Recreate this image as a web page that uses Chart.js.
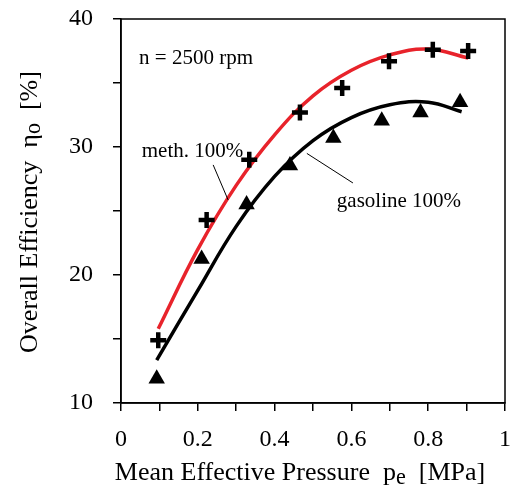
<!DOCTYPE html>
<html>
<head>
<meta charset="utf-8">
<script src="https://cdn.jsdelivr.net/npm/chart.js@4/dist/chart.umd.min.js"></script>
<style>
  html, body { margin: 0; padding: 0; background: #fff; }
  #wrap { width: 511px; height: 492px; position: relative; }
</style>
</head>
<body>
<div id="wrap"><canvas id="c" width="511" height="492"></canvas></div>
<script>
// ---- data ----
const methPressure = [0.097, 0.223, 0.334, 0.466, 0.576, 0.698, 0.812, 0.904];
const methEff      = [14.9, 24.3, 29.0, 32.7, 34.6, 36.7, 37.6, 37.5];
const gasPressure  = [0.093, 0.21, 0.327, 0.44, 0.553, 0.679, 0.78, 0.883];
const gasEff       = [11.9, 21.25, 25.5, 28.55, 30.7, 32.05, 32.7, 33.5];

const methFitPressure = [0.097, 0.2, 0.3, 0.4, 0.5, 0.6, 0.7, 0.8, 0.904];
const methFitEff      = [15.8, 22.0, 27.0, 30.95, 34.0, 36.0, 37.2, 37.65, 36.95];
const gasFitPressure  = [0.093, 0.2, 0.3, 0.4, 0.5, 0.6, 0.7, 0.8, 0.887];
const gasFitEff       = [13.35, 18.8, 23.8, 27.7, 30.5, 32.3, 33.3, 33.5, 32.75];

const xTicks = [0, 0.2, 0.4, 0.6, 0.8, 1];
const yTicks = [10, 20, 30, 40];

const labels = {
  speed: 'n = 2500 rpm',
  meth: 'meth. 100%',
  gas: 'gasoline 100%',
  xTitle: ['Mean Effective Pressure  p', 'e', '  [MPa]'],
  yTitle: ['Overall Efficiency  η', 'o', '  [%]']
};

const pts = (xs, ys) => xs.map((x, i) => ({ x: x, y: ys[i] }));

const SERIF = '"Liberation Serif", "Times New Roman", serif';

const overlay = {
  id: 'overlay',
  afterDraw(chart) {
    const ctx = chart.ctx;
    const xs = chart.scales.x, ys = chart.scales.y;
    const a = chart.chartArea;
    const px = v => xs.getPixelForValue(v), py = v => ys.getPixelForValue(v);
    ctx.save();
    // frame (top & right)
    ctx.strokeStyle = '#000';
    ctx.lineWidth = 1.5;
    ctx.strokeRect(a.left, a.top, a.right - a.left, a.bottom - a.top);

    // leader lines
    ctx.lineWidth = 1;
    ctx.beginPath();
    ctx.moveTo(px(0.240), py(28.6)); ctx.lineTo(px(0.279), py(25.86));
    ctx.moveTo(px(0.484), py(29.5)); ctx.lineTo(px(0.604), py(27.19));
    ctx.stroke();

    // annotations
    ctx.fillStyle = '#000';
    ctx.font = '21px ' + SERIF;
    ctx.textBaseline = 'alphabetic';
    ctx.textAlign = 'left';
    ctx.fillText(labels.speed, px(0.047), py(36.48));
    ctx.fillText(labels.meth, px(0.054), py(29.24));
    ctx.fillText(labels.gas, px(0.562), py(25.34));

    // axis titles with subscripts
    const drawSub = (parts, x, y, size, subShift) => {
      ctx.font = size + 'px ' + SERIF;
      const w0 = ctx.measureText(parts[0]).width;
      ctx.font = (size * 0.85) + 'px ' + SERIF;
      const w1 = ctx.measureText(parts[1]).width;
      ctx.font = size + 'px ' + SERIF;
      const w2 = ctx.measureText(parts[2]).width;
      const total = w0 + w1 + w2;
      let cx = x - total / 2;
      ctx.textAlign = 'left';
      ctx.fillText(parts[0], cx, y); cx += w0;
      ctx.font = (size * 0.85) + 'px ' + SERIF;
      ctx.fillText(parts[1], cx, y + subShift); cx += w1;
      ctx.font = size + 'px ' + SERIF;
      ctx.fillText(parts[2], cx, y);
    };
    drawSub(labels.xTitle, 300, 480, 26, 4);
    ctx.translate(37, 212);
    ctx.rotate(-Math.PI / 2);
    drawSub(labels.yTitle, 0, 0, 26, 3);
    ctx.restore();
  }
};

const noPad = s => { s.paddingTop = 0; s.paddingBottom = 0; s.paddingLeft = 0; s.paddingRight = 0; };

const ctx = document.getElementById('c').getContext('2d');
new Chart(ctx, {
  type: 'scatter',
  data: {
    datasets: [
      { label: 'meth fit', data: pts(methFitPressure, methFitEff), showLine: true,
        borderColor: '#e8232b', borderWidth: 3.5, pointRadius: 0, tension: 0.4, fill: false, order: 3 },
      { label: 'gas fit', data: pts(gasFitPressure, gasFitEff), showLine: true,
        borderColor: '#000', borderWidth: 3.5, pointRadius: 0, tension: 0.4, fill: false, order: 4 },
      { label: 'methanol 100%', data: pts(methPressure, methEff), pointStyle: 'cross',
        pointRadius: 8, borderColor: '#000', borderWidth: 4.5, backgroundColor: '#000', order: 1 },
      { label: 'gasoline 100%', data: pts(gasPressure, gasEff), pointStyle: 'triangle',
        pointRadius: 9.5, borderColor: '#000', borderWidth: 0, backgroundColor: '#000', order: 2 }
    ]
  },
  options: {
    responsive: false,
    animation: false,
    events: [],
    layout: { autoPadding: false, padding: { top: 19, right: 6, left: 0, bottom: 0 } },
    plugins: { legend: { display: false }, tooltip: { enabled: false } },
    scales: {
      x: {
        type: 'linear', min: 0, max: 1,
        afterFit: s => { s.height = 89; noPad(s); },
        afterBuildTicks: s => { s.ticks = [0,0.1,0.2,0.3,0.4,0.5,0.6,0.7,0.8,0.9,1].map(v => ({ value: v })); },
        ticks: {
          padding: 14, color: '#000', maxRotation: 0, autoSkip: false,
          font: { family: SERIF, size: 24 },
          callback: v => {
            const r = Math.round(v * 10) / 10;
            return xTicks.some(t => Math.abs(t - r) < 1e-9) ? String(r) : '';
          }
        },
        grid: { drawOnChartArea: false, drawTicks: true, tickLength: 8, color: '#000', lineWidth: 1.5 },
        border: { color: '#000', width: 1.5 }
      },
      y: {
        type: 'linear', min: 10, max: 40,
        afterFit: s => { s.width = 121; noPad(s); },
        afterBuildTicks: s => { s.ticks = [10,15,20,25,30,35,40].map(v => ({ value: v })); },
        ticks: {
          padding: 20, color: '#000', autoSkip: false,
          font: { family: SERIF, size: 24 },
          callback: v => yTicks.includes(v) ? String(v) : ''
        },
        grid: { drawOnChartArea: false, drawTicks: true, tickLength: 8, color: '#000', lineWidth: 1.5 },
        border: { color: '#000', width: 1.5 }
      }
    }
  },
  plugins: [overlay]
});
</script>
</body>
</html>
